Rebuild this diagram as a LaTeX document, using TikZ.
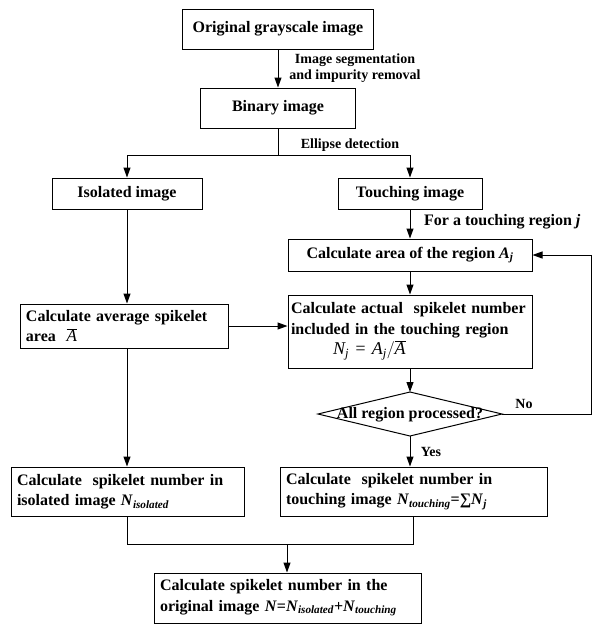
\documentclass[tikz,border=0pt]{standalone}
\usepackage{fontspec}
\setmainfont{Liberation Serif}
\usetikzlibrary{arrows.meta}
\newcommand\mysub[1]{\textsubscript{\itshape #1}}
\begin{document}
\begin{tikzpicture}[x=1pt,y=-1pt,
  box/.style={draw, line width=1pt, inner sep=0pt, font=\fontsize{16}{20.5}\selectfont\bfseries},
  lbox/.style={box, align=left, inner xsep=6pt},
  lbl/.style={font=\fontsize{14}{16}\selectfont\bfseries, inner sep=0pt},
  lblb/.style={font=\fontsize{16}{20}\selectfont\bfseries, inner sep=0pt},
  arr/.style={line width=1pt, -{Triangle[length=10pt,width=7pt]}},
  ln/.style={line width=1pt}]
\useasboundingbox (0,0) rectangle (600,630);
% boxes
\node[box, minimum width=191pt, minimum height=40pt] (b1) at (278,29) {Original grayscale image};
\node[box, minimum width=155pt, minimum height=40pt] (b2) at (278,108) {Binary image};
\node[box, minimum width=150pt, minimum height=31pt] (iso) at (127,193.5) {Isolated image};
\node[box, minimum width=144pt, minimum height=31pt] (touch) at (410,193.5) {Touching image};
\node[box, minimum width=244pt, minimum height=32pt] (area) at (410,255) {Calculate area of the region \textit{A}\mysub{j}};
\node[lbox, inner xsep=3pt, text width=238pt, minimum height=73pt] (actual) at (410,331.5)
  {\hyphenpenalty=10000 Calculate actual\ \ spikelet number\\included in the touching region\\\hspace*{42pt}{\fontsize{18}{20}\selectfont\mdseries\itshape N\mysub{j}\ =\ A\mysub{j}}$\Big/\overline{\mbox{\fontsize{18}{20}\selectfont\mdseries\itshape A}}$};
\node[lbox, text width=196pt, minimum height=44pt] (avg) at (124,326)
  {Calculate average spikelet\\area\ \ $\overline{\mbox{\fontsize{17}{20}\selectfont\mdseries\itshape A}}$};
% diamond
\coordinate (dt) at (410,392);
\coordinate (db) at (410,436);
\coordinate (dl) at (318,414);
\coordinate (dr) at (502,414);
\draw[ln] (dl) -- (dt) -- (dr) -- (db) -- cycle;
\node[box, draw=none] (dtext) at (410,415) {All region processed?};
\node[lbox, text width=221pt, minimum height=49pt] (iso2) at (127.5,491.5)
  {Calculate\ \ spikelet number in\\isolated image \textit{N}\mysub{isolated}};
\node[lbox, text width=255pt, minimum height=49pt] (touch2) at (413.5,491.5)
  {Calculate\ \ spikelet number in\\touching image \textit{N}\mysub{touching}=∑\textit{N}\mysub{j}};
\node[lbox, text width=255pt, minimum height=50pt] (bot) at (287.5,598)
  {Calculate spikelet number in the\\original image \textit{N}=\textit{N}\mysub{isolated}+\textit{N}\mysub{touching}};
% labels
\node[lbl, align=center] (l1) at (355,68) {Image segmentation\\and impurity removal};
\node[lbl] (l2) at (350,145) {Ellipse detection};
\node[lblb, anchor=west] (l3) at (424,222) {For a touching region \textit{j}};
\node[lbl] (l4) at (524,404) {No};
\node[lbl] (l5) at (431,452) {Yes};
% connectors
\coordinate (sp) at (278,155);
\coordinate (lp) at (591,414);
\coordinate (m) at (287,544);
\draw[arr] (b1.south) -- (b2.north);
\draw[ln] (b2.south) -- (sp);
\draw[arr] (sp) -| (iso.north);
\draw[arr] (sp) -| (touch.north);
\draw[arr] (touch.south) -- (area.north);
\draw[arr] (area.south) -- (actual.north);
\draw[arr] (iso.south) -- (iso.south |- avg.north);
\draw[arr] (avg.east) -- (avg.east -| actual.west);
\draw[arr] (actual.south) -- (dt);
\draw[arr] (dr) -- (lp) |- (area.east);
\draw[arr] (db) -- (db |- touch2.north);
\draw[arr] (avg.south -| iso.south) -- (iso2.north -| iso.south);
\draw[ln] (iso2.south -| iso.south) |- (m);
\draw[ln] (touch2.south) |- (m);
\draw[arr] (m) -- (bot.north -| m);
\end{tikzpicture}
\end{document}
